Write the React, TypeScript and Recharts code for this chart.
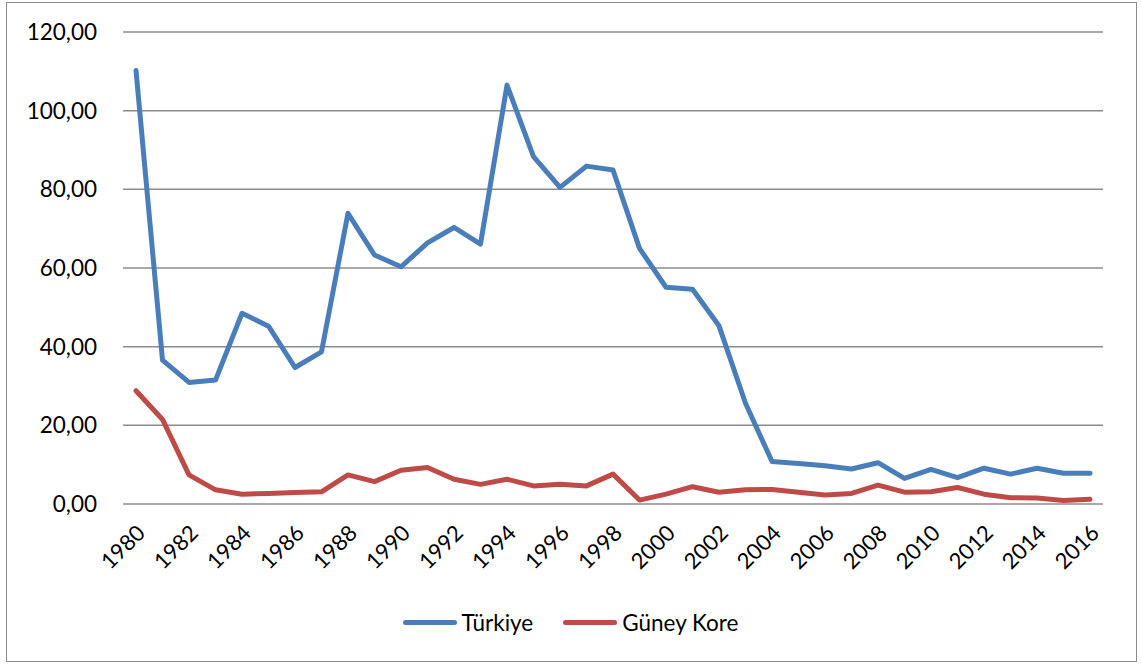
import { LineChart, Line, XAxis, YAxis, CartesianGrid } from "recharts";

const years = [
  1980, 1981, 1982, 1983, 1984, 1985, 1986, 1987, 1988, 1989, 1990, 1991, 1992,
  1993, 1994, 1995, 1996, 1997, 1998, 1999, 2000, 2001, 2002, 2003, 2004, 2005,
  2006, 2007, 2008, 2009, 2010, 2011, 2012, 2013, 2014, 2015, 2016,
];

const turkiye = [
  110.2, 36.6, 30.9, 31.5, 48.5, 45.2, 34.7, 38.7, 73.9, 63.3, 60.3, 66.4, 70.3,
  66.1, 106.5, 88.3, 80.5, 85.9, 84.9, 65.0, 55.1, 54.6, 45.3, 25.6, 10.8, 10.3,
  9.7, 8.9, 10.5, 6.5, 8.8, 6.7, 9.1, 7.6, 9.1, 7.8, 7.8,
];

const guneyKore = [
  28.8, 21.5, 7.4, 3.6, 2.5, 2.7, 2.9, 3.1, 7.4, 5.7, 8.6, 9.3, 6.3, 5.0, 6.3,
  4.6, 5.0, 4.6, 7.6, 1.0, 2.5, 4.4, 3.0, 3.6, 3.7, 3.0, 2.3, 2.7, 4.8, 3.0, 3.1,
  4.2, 2.5, 1.6, 1.5, 0.9, 1.2,
];

const yTicks = [0, 20, 40, 60, 80, 100, 120];

const data = years.map((y, i) => ({
  year: String(y),
  tr: turkiye[i],
  kr: guneyKore[i],
}));

const FONT = "Lato, 'Open Sans', sans-serif";
const BLUE = "#4A7EBB";
const RED = "#BE4B48";

const fmt = (v: number) => v.toFixed(2).replace(".", ",");

function YearTick(props: any) {
  const { x, y, payload } = props;
  return (
    <g transform={`translate(${x + 5},${y + 17})`}>
      <text
        transform="rotate(-45)"
        textAnchor="end"
        dy="0.35em"
        fontSize={22}
        fontFamily={FONT}
        fill="#000"
      >
        {payload.value}
      </text>
    </g>
  );
}

export default function App() {
  return (
    <div
      style={{
        position: "absolute",
        left: 0,
        top: 0,
        width: 1141,
        height: 666,
        background: "#fff",
        fontFamily: FONT,
      }}
    >
      <div
        style={{
          position: "absolute",
          left: 6,
          top: 2,
          width: 1131,
          height: 660,
          border: "1.5px solid #8c8c8c",
          boxSizing: "border-box",
        }}
      />
      <LineChart
        width={1141}
        height={666}
        data={data}
        margin={{ top: 32, right: 38, bottom: 0, left: 0 }}
        style={{ position: "absolute", left: 0, top: 0 }}
      >
        <CartesianGrid
          vertical={false}
          stroke="#8c8c8c"
          strokeWidth={1.5}
        />
        <XAxis
          dataKey="year"
          interval={1}
          height={162}
          axisLine={false}
          tickLine={false}
          padding={{ left: 13, right: 13 }}
          tick={<YearTick />}
        />
        <YAxis
          domain={[0, 120]}
          ticks={yTicks}
          width={123}
          axisLine={false}
          tickLine={false}
          tickSize={0}
          tickMargin={26}
          tickFormatter={fmt}
          tick={{ fontSize: 22.5, fontFamily: FONT, fill: "#000" }}
        />
        <Line
          dataKey="tr"
          name="Türkiye"
          stroke={BLUE}
          strokeWidth={5}
          dot={false}
          strokeLinejoin="round"
          strokeLinecap="round"
          isAnimationActive={false}
        />
        <Line
          dataKey="kr"
          name="Güney Kore"
          stroke={RED}
          strokeWidth={5}
          dot={false}
          strokeLinejoin="round"
          strokeLinecap="round"
          isAnimationActive={false}
        />
      </LineChart>
      <div
        style={{
          position: "absolute",
          top: 609,
          left: 0,
          width: 1141,
          display: "flex",
          justifyContent: "center",
          alignItems: "center",
          fontSize: 22.5,
          color: "#000",
        }}
      >
        {[
          { label: "Türkiye", color: BLUE },
          { label: "Güney Kore", color: RED },
        ].map((it, i) => (
          <div
            key={it.label}
            style={{
              display: "flex",
              alignItems: "center",
              marginLeft: i === 0 ? 0 : 30,
            }}
          >
            <span
              style={{
                display: "inline-block",
                width: 54,
                height: 5,
                borderRadius: 3,
                background: it.color,
                marginRight: 5,
              }}
            />
            <span>{it.label}</span>
          </div>
        ))}
      </div>
    </div>
  );
}
